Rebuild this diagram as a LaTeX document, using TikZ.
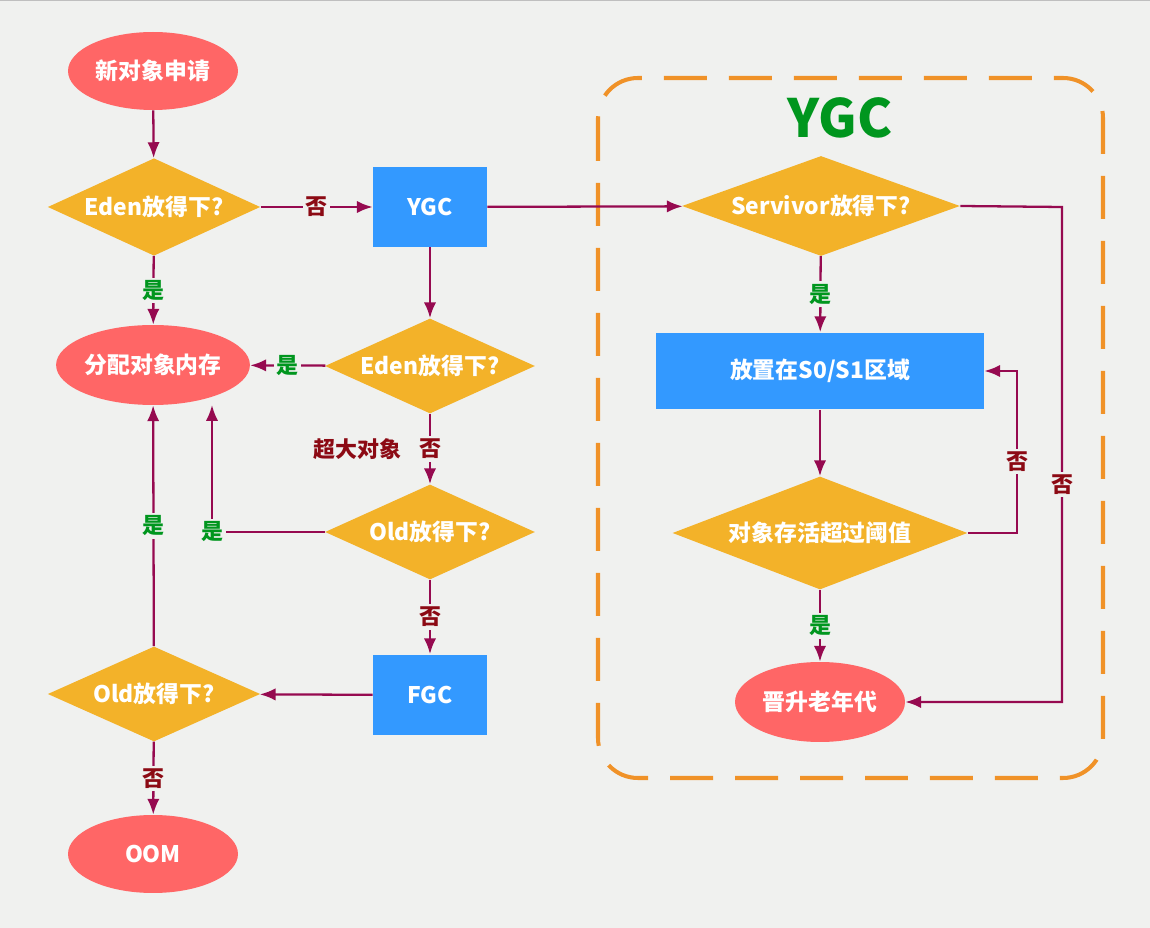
\documentclass[tikz,border=0pt]{standalone}
\usepackage{fontspec}
\setmainfont{Noto Sans CJK SC}
\usetikzlibrary{shapes.geometric,arrows.meta}

\definecolor{bgcol}{RGB}{240,241,239}
\definecolor{redfill}{RGB}{255,102,102}
\definecolor{yellowfill}{RGB}{243,178,41}
\definecolor{bluefill}{RGB}{51,153,255}
\definecolor{linecol}{RGB}{150,10,80}
\definecolor{yescol}{RGB}{0,150,30}
\definecolor{nocol}{RGB}{140,10,20}
\definecolor{boxcol}{RGB}{240,146,40}

\begin{document}
\begin{tikzpicture}[x=0.02cm,y=-0.02cm,
		nodefont/.style={font=\bfseries\fontsize{13}{13}\selectfont},
		startend/.style={ellipse, fill=redfill, text=white, nodefont, minimum width=3.4cm, minimum height=1.56cm, inner sep=0pt},
		decision/.style={diamond, fill=yellowfill, text=white, nodefont, inner sep=0pt, aspect=2.2},
		process/.style={rectangle, fill=bluefill, text=white, nodefont, inner sep=0pt},
		flow/.style={draw=linecol, line width=1.3pt, -{Latex[length=9pt,width=7pt]}},
		yeslabel/.style={fill=bgcol, text=yescol, font=\bfseries\fontsize{12.5}{12.5}\selectfont, inner sep=1.5pt},
		nolabel/.style={fill=bgcol, text=nocol, font=\bfseries\fontsize{12.5}{12.5}\selectfont, inner sep=1.5pt}]
	% Draw the background
	\fill[bgcol] (0,0) rectangle (1150,928);
	\useasboundingbox (0,0) rectangle (1150,928);
	\draw[gray!50, line width=1.5pt] (0,0) -- (1150,0);
	
	% Draw the dashed YGC frame
	\draw[boxcol, line width=2.3pt, dash pattern=on 0.86cm off 0.44cm, rounded corners=0.8cm] (598,78) rectangle (1103,778);
	\node (ygctitle) [text=yescol, font=\bfseries\fontsize{30}{30}\selectfont] at (840,118) {YGC};
	
	% Left and middle column
	\node (new) [startend] at (153,71) {新对象申请};
	\node (eden1) [decision, minimum width=4.25cm, minimum height=1.95cm] at (154,207) {Eden放得下?};
	\node (ygc) [process, minimum width=2.28cm, minimum height=1.6cm] at (430,207) {YGC};
	\node (alloc) [startend, minimum height=1.6cm] at (153,365) {分配对象内存};
	\node (eden2) [decision, minimum width=4.2cm, minimum height=1.9cm] at (430,366) {Eden放得下?};
	\node (old1) [decision, minimum width=4.2cm, minimum height=1.9cm] at (430,532) {Old放得下?};
	\node (fgc) [process, minimum width=2.28cm, minimum height=1.62cm] at (430,695) {FGC};
	\node (old2) [decision, minimum width=4.25cm, minimum height=1.9cm] at (154,694) {Old放得下?};
	\node (oom) [startend] at (153,854) {OOM};
	
	% Right column inside the frame
	\node (serv) [decision, aspect=2.78, minimum width=5.56cm, minimum height=2cm] at (821,206) {Servivor放得下?};
	\node (s0s1) [process, minimum width=6.56cm, minimum height=1.54cm] at (820,371) {放置在S0/S1区域};
	\node (thresh) [decision, aspect=2.6, minimum width=5.9cm, minimum height=2.26cm] at (820,533) {对象存活超过阈值};
	\node (promo) [startend, minimum height=1.6cm] at (820,702) {晋升老年代};
	
	% Turning points of the bent connectors
	\coordinate (oldup) at (212,405);
	\coordinate (loopturn) at (1017,371);
	\coordinate (servturn) at (1062,207);
	
	% Draw the connectors
	\draw[flow] (new) -- (eden1);
	\draw[flow] (eden1) -- (ygc) node[midway, nolabel] {否};
	\draw[flow] (eden1) -- (alloc) node[midway, yeslabel] {是};
	\draw[flow] (ygc) -- (eden2);
	\draw[flow] (ygc) -- (serv);
	\draw[flow] (eden2) -- (alloc) node[midway, yeslabel] {是};
	\draw[flow] (eden2) -- (old1) node[midway, nolabel] {否};
	\node (bigobj) [anchor=east, text=nocol, font=\bfseries\fontsize{12.5}{12.5}\selectfont] at (408,449) {超大对象};
	\draw[flow] (old1.west) -| (oldup) node[pos=0.5, yeslabel] {是};
	\draw[flow] (old1) -- (fgc) node[midway, nolabel] {否};
	\draw[flow] (fgc) -- (old2);
	\draw[flow] (old2) -- (alloc) node[midway, yeslabel] {是};
	\draw[flow] (old2) -- (oom) node[midway, nolabel] {否};
	\draw[flow] (serv) -- (s0s1) node[midway, yeslabel] {是};
	\draw[flow] (s0s1) -- (thresh);
	\draw[flow] (thresh.east) -| (loopturn) node[pos=0.72, nolabel] {否} -- (s0s1.east);
	\draw[flow] (thresh) -- (promo) node[midway, yeslabel] {是};
	\draw[flow] (serv.east) -- (servturn) |- (promo.east) node[pos=0.28, nolabel] {否};
\end{tikzpicture}
\end{document}
